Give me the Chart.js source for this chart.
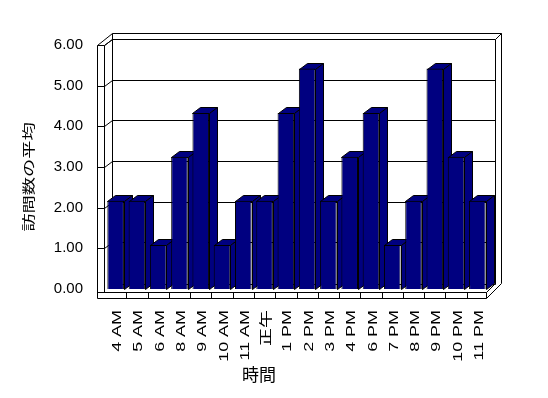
<!DOCTYPE html>
<html><head><meta charset="utf-8">
<script src="https://cdn.jsdelivr.net/npm/chart.js@4/dist/chart.umd.min.js"></script>
<style>html,body{margin:0;padding:0;background:#fff}canvas{display:block}</style>
</head><body>
<canvas id="c" width="548" height="398"></canvas>
<script>
const categories = ['4 AM','5 AM','6 AM','8 AM','9 AM','10 AM','11 AM','正午','1 PM','2 PM','3 PM','4 PM','6 PM','7 PM','8 PM','9 PM','10 PM','11 PM'];
const averageVisits = [2.17,2.17,1.08,3.25,4.33,1.08,2.17,2.17,4.33,5.42,2.17,3.25,4.33,1.08,2.17,5.42,3.25,2.17];
const yTickValues = [0,1,2,3,4,5,6];
const yAxisTitle = '訪問数の平均';
const xAxisTitle = '時間';

const LATIN = '"Liberation Sans", "Noto Sans CJK JP", sans-serif';
const CJK = '"Noto Sans CJK JP", sans-serif';
const DX = 8, DY = -6;

function P(v){ return Math.round(v) + 0.5; }
function line(ctx, x1, y1, x2, y2){ ctx.beginPath(); ctx.moveTo(P(x1), P(y1)); ctx.lineTo(P(x2), P(y2)); ctx.stroke(); }

const frame3d = {
  id: 'frame3d',
  beforeDraw(chart) {
    const xs = chart.scales.x, ys = chart.scales.y;
    if (!xs._stretched) {
      const origL = xs.drawLabels;
      xs.drawLabels = function(ca) {
        const ctx = this.ctx, yy = this.top + 21;
        ctx.save();
        ctx.translate(2, yy); ctx.scale(1, 1.38); ctx.translate(0, -yy);
        origL.call(this, ca);
        ctx.restore();
      };
      xs._stretched = true;
    }
    if (!ys._stretched) {
      const origT = ys.drawTitle;
      ys.drawTitle = function() {
        const ctx = this.ctx, cy = (this.top + this.bottom) / 2;
        ctx.save();
        ctx.translate(0, cy + 10); ctx.scale(1, 1.4); ctx.translate(0, -cy);
        origT.call(this);
        ctx.restore();
      };
      ys._stretched = true;
    }
  },
  beforeDatasetsDraw(chart) {
    const {ctx, chartArea: a, scales: {x, y}} = chart;
    const L = a.left, R = a.right;
    const B = y.getPixelForValue(0), T = y.getPixelForValue(6);
    const wl = L - 8, wr = L - 1, bl = L + 7, br = R + 7, bo = R + 13, topB = T - 12;
    const fTop = B + 3, fBot = B + 9, fR = R - 2, backFloor = B - 5;
    ctx.save();
    ctx.strokeStyle = '#000'; ctx.lineWidth = 1;
    // left wall
    line(ctx, wl, T, wl, fBot);
    line(ctx, wr, T, wr, fTop);
    line(ctx, wl, T, bl, topB);
    line(ctx, wr, T, bl, T - 6);
    // back wall
    line(ctx, bl, topB, bo, topB);
    line(ctx, bl, topB, bl, backFloor);
    line(ctx, br, T - 6, br, backFloor);
    line(ctx, bo, topB, bo, backFloor - 1);
    line(ctx, br, T - 6, bo, topB);
    // gridlines + ticks
    yTickValues.forEach(v => {
      const s = y.getPixelForValue(v);
      if (v === 0) return;
      line(ctx, wl, s, wr, s);
      line(ctx, wr, s, bl, s - 6);
      line(ctx, bl, s - 6, br, s - 6);
    });
    // floor
    line(ctx, bl, backFloor, br, backFloor);
    line(ctx, wl, fTop, fR, fTop);
    line(ctx, wl, fBot, fR, fBot);
    line(ctx, fR, fTop, fR, fBot);
    line(ctx, fR, fTop, br - 1, backFloor);
    line(ctx, fR, fBot, bo, backFloor - 1);
    for (let i = 1; i < categories.length; i++) {
      const bx = (x.getPixelForValue(i - 1) + x.getPixelForValue(i)) / 2;
      line(ctx, bx, fTop, bx, fBot);
    }
    // bar top and side faces
    const meta = chart.getDatasetMeta(0);
    ctx.fillStyle = '#000080';
    meta.data.forEach(el => {
      const l = Math.round(el.x - el.width / 2), r = Math.round(el.x + el.width / 2);
      const t = Math.round(el.y), b = Math.round(el.base);
      ctx.beginPath();
      ctx.moveTo(l + 0.5, t + 0.5); ctx.lineTo(l + DX + 0.5, t + DY + 0.5);
      ctx.lineTo(r + DX + 0.5, t + DY + 0.5); ctx.lineTo(r + 0.5, t + 0.5); ctx.closePath();
      ctx.fill(); ctx.stroke();
      ctx.beginPath();
      ctx.moveTo(r + 0.5, t + 0.5); ctx.lineTo(r + DX + 0.5, t + DY + 0.5);
      ctx.lineTo(r + DX + 0.5, b + DY + 0.5); ctx.lineTo(r + 0.5, b + 0.5); ctx.closePath();
      ctx.fill(); ctx.stroke();
    });
    ctx.restore();
  },
  afterDraw(chart) {
    const {ctx} = chart;
    ctx.save();
    ctx.fillStyle = '#000';
    ctx.font = '17px ' + CJK;
    ctx.textAlign = 'center'; ctx.textBaseline = 'middle';
    ctx.fillText(xAxisTitle, 259, 375);
    ctx.restore();
  }
};

new Chart(document.getElementById('c'), {
  type: 'bar',
  data: {
    labels: categories,
    datasets: [{
      data: averageVisits,
      backgroundColor: '#000080',
      borderColor: '#000',
      borderWidth: 1,
      categoryPercentage: 1,
      barPercentage: 0.78
    }]
  },
  options: {
    responsive: false,
    animation: false,
    devicePixelRatio: 1,
    layout: { padding: { top: 45, right: 60, bottom: 0, left: 0 } },
    plugins: { legend: { display: false }, tooltip: { enabled: false } },
    scales: {
      x: {
        grid: { display: false, drawTicks: false },
        border: { display: false },
        ticks: { autoSkip: false, minRotation: 90, maxRotation: 90, padding: 21, color: '#000', font: { family: LATIN, size: 13 } },
        afterFit(s) { s.height = 109; }
      },
      y: {
        min: 0, max: 6,
        grid: { display: false, drawTicks: false },
        border: { display: false },
        afterBuildTicks(s) { s.ticks = yTickValues.map(v => ({ value: v })); },
        ticks: { padding: 22, color: '#000', font: { family: LATIN, size: 15 }, callback: v => Number(v).toFixed(2) },
        title: { display: true, text: yAxisTitle, color: '#000', font: { family: CJK, size: 13 }, padding: { top: 20, bottom: 0 } },
        afterFit(s) { s.width = 105; }
      }
    }
  },
  plugins: [frame3d]
});
</script>
</body></html>
